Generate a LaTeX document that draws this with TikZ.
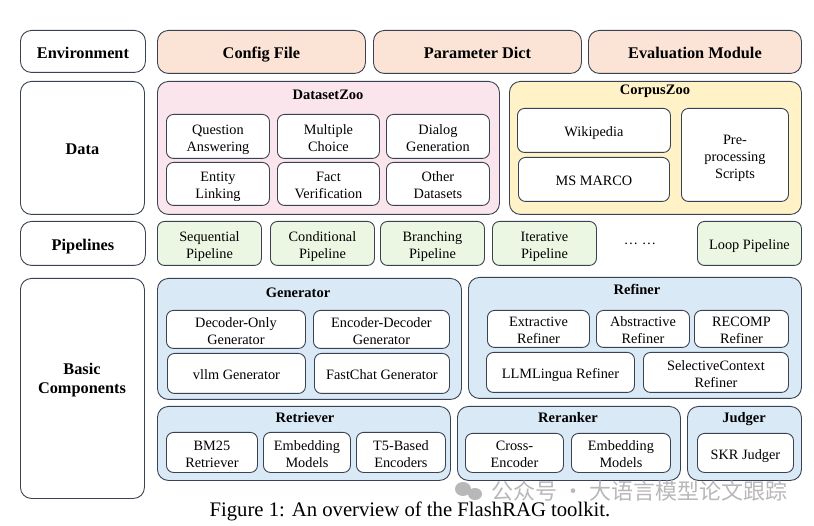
\documentclass[tikz,border=0pt]{standalone}
\usepackage{fontspec}
\setmainfont{Liberation Serif}
\newfontfamily\cjk{Noto Sans CJK SC}
\definecolor{bordc}{HTML}{3A4252}
\definecolor{peach}{HTML}{FBE3D6}
\definecolor{pinkz}{HTML}{FBE5EC}
\definecolor{yellz}{HTML}{FFF2C6}
\definecolor{greenz}{HTML}{EBF7E3}
\definecolor{bluez}{HTML}{DAE9F6}
\definecolor{wmark}{HTML}{B8B8B8}
\newcommand{\tl}[2][6.5pt]{\raisebox{-#1}[0pt][0pt]{\begin{tabular}{@{}c@{}}#2\end{tabular}}}
\tikzset{
  sz/.style 2 args={minimum width=#1pt, minimum height=#2pt},
  base/.style={draw=bordc, line width=0.9pt, anchor=north west, inner sep=0pt},
  outer/.style={base, rounded corners=11pt},
  inbox/.style={base, rounded corners=7pt, fill=white, font=\fontsize{14.3}{17}\selectfont},
  biglabel/.style={font=\bfseries\fontsize{16.3}{19}\selectfont},
  grouptitle/.style={font=\bfseries\fontsize{14.5}{17}\selectfont, inner sep=0pt},
  pipebox/.style={base, rounded corners=7pt, fill=greenz, font=\fontsize{14.3}{17}\selectfont},
}
\begin{document}
\begin{tikzpicture}[x=1pt,y=-1pt]
\useasboundingbox[fill=white] (0,0) rectangle (814,526);
% Environment row
\node[outer, biglabel, sz={125}{42}] (env) at (20,30) {\tl[7.5pt]{Environment}};
\node[outer, biglabel, fill=peach, sz={208}{43}] (cfg) at (157,30) {\tl[7.5pt]{Config File}};
\node[outer, biglabel, fill=peach, sz={208}{43}] (pdict) at (373,30) {\tl[7.5pt]{Parameter Dict}};
\node[outer, biglabel, fill=peach, sz={213}{43}] (evalm) at (588,30) {\tl[7.5pt]{Evaluation Module}};
% Data row
\node[outer, biglabel, sz={124}{133}] (data) at (20,81) {\tl[7.5pt]{Data}};
\node[outer, fill=pinkz, sz={342}{133}] (dz) at (157,81) {};
\node[grouptitle] (dzt) at (328,95) {DatasetZoo};
\node[inbox, sz={103}{44}] (qa) at (166,114) {\tl{Question\\Answering}};
\node[inbox, sz={102}{44}] (mc) at (277,114) {\tl{Multiple\\Choice}};
\node[inbox, sz={103}{44}] (dg) at (386,114) {\tl{Dialog\\Generation}};
\node[inbox, sz={103}{43}] (el) at (166,162) {\tl{Entity\\Linking}};
\node[inbox, sz={102}{43}] (fv) at (277,162) {\tl{Fact\\Verification}};
\node[inbox, sz={103}{43}] (od) at (386,162) {\tl{Other\\Datasets}};
\node[outer, fill=yellz, sz={292}{133}] (cz) at (509,81) {};
\node[grouptitle] (czt) at (655,91) {CorpusZoo};
\node[inbox, sz={153}{44}] (wiki) at (517,108) {\tl{Wikipedia}};
\node[inbox, sz={151}{44}] (msm) at (518,157) {\tl{MS MARCO}};
\node[inbox, sz={107}{93}] (pre) at (681,108) {\tl{Pre-\\processing\\Scripts}};
% Pipelines row
\node[outer, biglabel, sz={125}{44}] (pipes) at (20,221) {\tl[7.5pt]{Pipelines}};
\node[pipebox, sz={104}{44}] (seq) at (157,221) {\tl{Sequential\\Pipeline}};
\node[pipebox, sz={104}{44}] (cond) at (270,221) {\tl{Conditional\\Pipeline}};
\node[pipebox, sz={104}{44}] (bran) at (380,221) {\tl{Branching\\Pipeline}};
\node[pipebox, sz={104}{44}] (iter) at (492,221) {\tl{Iterative\\Pipeline}};
\node[font=\fontsize{14.3}{17}\selectfont, inner sep=0pt] (dots) at (640,244) {\dots\ \dots};
\node[pipebox, sz={104}{44}] (loop) at (697,221) {\tl{Loop Pipeline}};
% Basic components
\node[outer, sz={124}{220}] (basic) at (20,278) {};
\node[biglabel, align=center, inner sep=0pt] (basict) at (82,380) {Basic\\Components};
\node[outer, fill=bluez, sz={304}{121}] (gen) at (157,278) {};
\node[grouptitle] (gent) at (298,293) {Generator};
\node[inbox, sz={139}{38}] (dog) at (166,310) {\tl{Decoder-Only\\Generator}};
\node[inbox, sz={136}{38}] (edg) at (313,310) {\tl{Encoder-Decoder\\Generator}};
\node[inbox, sz={138}{40}] (vllm) at (167,353) {\tl{vllm Generator}};
\node[inbox, sz={135}{40}] (fch) at (314,353) {\tl{FastChat Generator}};
\node[outer, fill=bluez, sz={333}{121}] (ref) at (468,277) {};
\node[grouptitle] (reft) at (637,289) {Refiner};
\node[inbox, sz={102}{37}] (ext) at (487,310) {\tl{Extractive\\Refiner}};
\node[inbox, sz={93}{37}] (abst) at (596,310) {\tl{Abstractive\\Refiner}};
\node[inbox, sz={94}{37}] (rec) at (694,310) {\tl{RECOMP\\Refiner}};
\node[inbox, sz={148}{40}] (llm) at (486,352) {\tl{LLMLingua Refiner}};
\node[inbox, sz={145}{40}] (sel) at (643,352) {\tl{SelectiveContext\\Refiner}};
\node[outer, fill=bluez, sz={293}{74}] (ret) at (157,406) {};
\node[grouptitle] (rett) at (305,418) {Retriever};
\node[inbox, sz={91}{40}] (bm) at (166,432) {\tl{BM25\\Retriever}};
\node[inbox, sz={87}{40}] (emba) at (263,432) {\tl{Embedding\\Models}};
\node[inbox, sz={89}{40}] (tfive) at (356,432) {\tl{T5-Based\\Encoders}};
\node[outer, fill=bluez, sz={223}{74}] (rer) at (457,406) {};
\node[grouptitle] (rert) at (568,418) {Reranker};
\node[inbox, sz={98}{39}] (ce) at (465,433) {\tl{Cross-\\Encoder}};
\node[inbox, sz={99}{39}] (embb) at (571,433) {\tl{Embedding\\Models}};
\node[outer, fill=bluez, sz={114}{74}] (jud) at (687,406) {};
\node[grouptitle] (judt) at (744,419) {Judger};
\node[inbox, sz={96}{39}] (skr) at (697,433) {\tl{SKR Judger}};
% caption
\node[font=\fontsize{20.7}{24}\selectfont, inner sep=0pt] (cap) at (410,511) {Figure 1: An overview of the FlashRAG toolkit.};
% watermark
\fill[wmark] (463,489) ellipse (8pt and 7pt);
\fill[wmark] (475,494) ellipse (7pt and 6pt);
\node[font=\cjk\fontsize{22}{24}\selectfont, text=wmark, anchor=east, inner sep=0pt] (wm) at (788,491) {公众号 · 大语言模型论文跟踪};
\end{tikzpicture}
\end{document}
